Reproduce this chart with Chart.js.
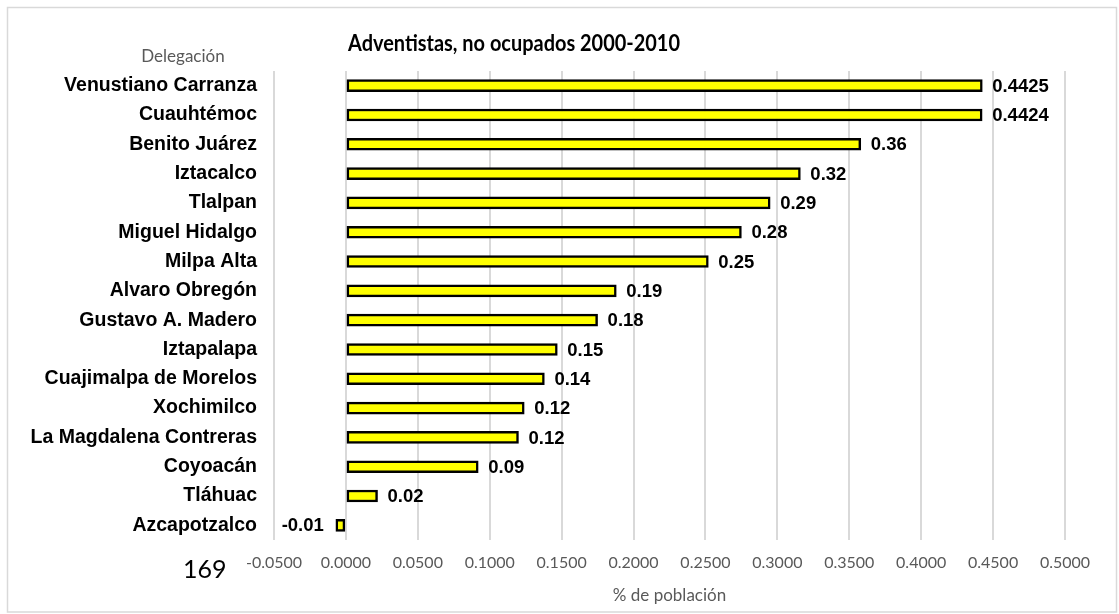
<!DOCTYPE html>
<html>
<head>
<meta charset="utf-8">
<script src="https://cdn.jsdelivr.net/npm/chart.js@4.4.1/dist/chart.umd.min.js"></script>
<style>
  html, body { margin: 0; padding: 0; background: #fff; }
  canvas { display: block; }
</style>
</head>
<body>
<canvas id="chart" width="1119" height="614"></canvas>
<script>
var delegaciones = ["Venustiano Carranza", "Cuauhtémoc", "Benito Juárez", "Iztacalco", "Tlalpan",
  "Miguel Hidalgo", "Milpa Alta", "Alvaro Obregón", "Gustavo A. Madero", "Iztapalapa",
  "Cuajimalpa de Morelos", "Xochimilco", "La Magdalena Contreras", "Coyoacán", "Tláhuac", "Azcapotzalco"];
var valores = [0.4425, 0.4424, 0.358, 0.316, 0.295, 0.275, 0.252, 0.188, 0.175, 0.147,
  0.138, 0.124, 0.120, 0.092, 0.022, -0.007];
var etiquetas = ["0.4425", "0.4424", "0.36", "0.32", "0.29", "0.28", "0.25", "0.19", "0.18", "0.15",
  "0.14", "0.12", "0.12", "0.09", "0.02", "-0.01"];
var xMin = -0.05, xMax = 0.5, xPaso = 0.05;
var titulo = "Adventistas, no ocupados 2000-2010";
var tituloX = "% de población";
var tituloY = "Delegación";
var pagina = "169";

var gris = "#595959";

// fondo, marco, titulos y etiquetas de valor
var extras = {
  id: "extras",
  beforeDraw: function(chart) {
    var ctx = chart.ctx;
    ctx.save();
    ctx.fillStyle = "#fff";
    ctx.fillRect(0, 0, chart.width, chart.height);
    ctx.strokeStyle = "#d9d9d9";
    ctx.lineWidth = 1.5;
    ctx.strokeRect(7.5, 7.5, 1109, 604.5);
    ctx.restore();
  },
  afterDraw: function(chart) {
    var ctx = chart.ctx;
    ctx.save();
    ctx.fillStyle = "#000";
    ctx.textBaseline = "alphabetic";
    ctx.textAlign = "left";
    ctx.font = "bold 23px Lato";
    ctx.fillText(titulo, 348, 51, 332);

    ctx.fillStyle = gris;
    ctx.textAlign = "center";
    ctx.font = "17px Lato";
    ctx.fillText(tituloY, 183, 62);

    ctx.fillStyle = "#000";
    ctx.textAlign = "left";
    ctx.font = "25px Lato";
    ctx.fillText(pagina, 183, 578);

    var meta = chart.getDatasetMeta(0);
    ctx.font = "bold 18.5px 'Liberation Sans', Arial";
    ctx.textBaseline = "middle";
    meta.data.forEach(function(bar, i) {
      if (valores[i] >= 0) {
        ctx.textAlign = "left";
        ctx.fillText(etiquetas[i], bar.x + 10, bar.y + 1);
      } else {
        ctx.textAlign = "right";
        ctx.fillText(etiquetas[i], bar.x - 12, bar.y + 1);
      }
    });
    ctx.restore();
  }
};

new Chart(document.getElementById("chart"), {
  type: "bar",
  data: {
    labels: delegaciones,
    datasets: [{
      data: valores,
      backgroundColor: "#ffff00",
      borderColor: "#000",
      borderWidth: 2.5,
      borderSkipped: false,
      barThickness: 12
    }]
  },
  options: {
    indexAxis: "y",
    responsive: false,
    animation: false,
    layout: { padding: { left: 0, right: 54, top: 71, bottom: 0 } },
    plugins: {
      legend: { display: false },
      tooltip: { enabled: false }
    },
    scales: {
      x: {
        min: xMin,
        max: xMax,
        afterFit: function(scale) { scale.height = 74; },
        border: { display: false },
        grid: { color: "#d9d9d9", lineWidth: 2, drawTicks: false },
        ticks: {
          stepSize: xPaso,
          padding: 13,
          color: gris,
          font: { family: "Lato", size: 16 },
          callback: function(v) { return v.toFixed(4); }
        },
        title: {
          display: true,
          text: tituloX,
          color: gris,
          font: { family: "Lato", size: 17 },
          padding: { top: 0, bottom: 8 }
        }
      },
      y: {
        afterFit: function(scale) { scale.width = 274; },
        border: { display: false },
        grid: { display: false, drawTicks: false },
        ticks: {
          padding: 17,
          color: "#000",
          font: { family: "'Liberation Sans', Arial", size: 19.5, weight: "bold" }
        }
      }
    }
  },
  plugins: [extras]
});
</script>
</body>
</html>
